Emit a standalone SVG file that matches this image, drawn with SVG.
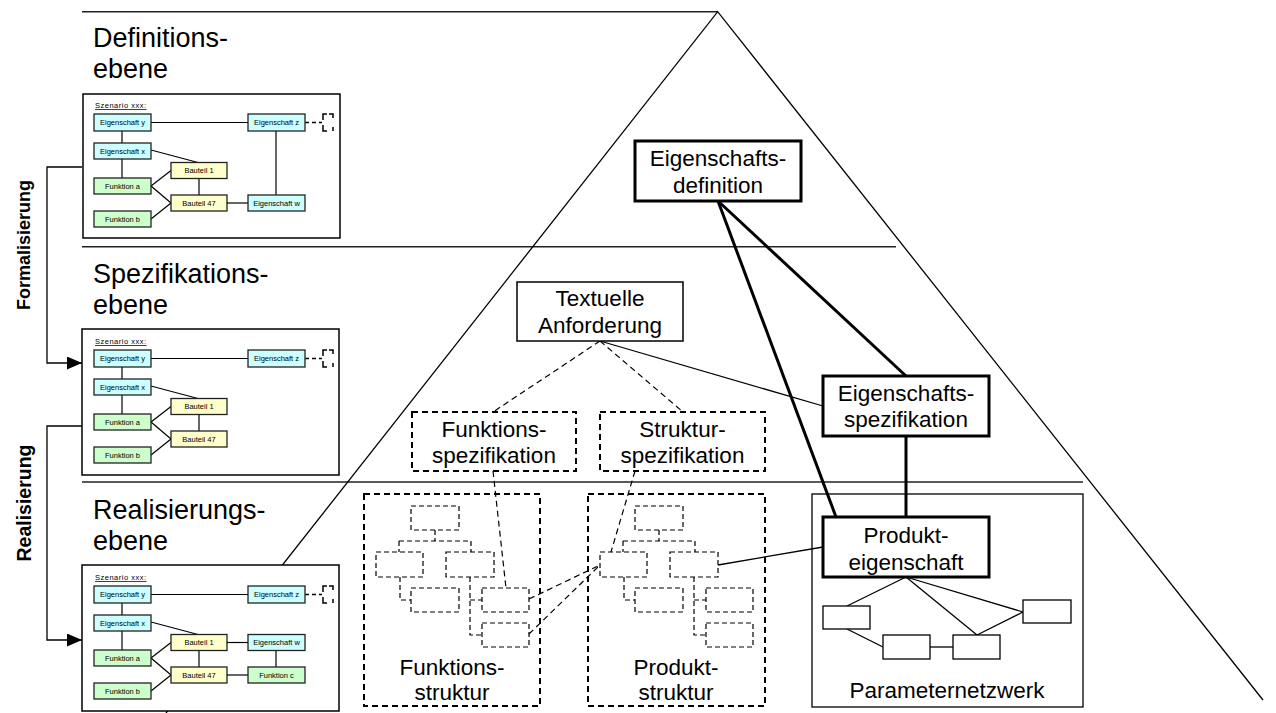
<svg xmlns="http://www.w3.org/2000/svg" width="1276" height="713" viewBox="0 0 1276 713">
<style>
text{font-family:"Liberation Sans",Arial,sans-serif;fill:#000}
.lvl{font-size:27px}
.lbl{font-size:22.5px;text-anchor:middle}
.side{font-size:18px;font-weight:bold;text-anchor:middle}
.sep{stroke:#222;stroke-width:1.5;fill:none}
.tri{stroke:#000;stroke-width:1.3;fill:none}
.thin{stroke:#000;stroke-width:1.3;fill:none}
.thick{stroke:#000;stroke-width:3;fill:none}
.dash{stroke:#000;stroke-width:1.2;fill:none;stroke-dasharray:6,4}
.dbox{stroke:#000;stroke-width:2;fill:#fff;stroke-dasharray:6,4}
.dcont{stroke:#000;stroke-width:2;fill:none;stroke-dasharray:6,4}
.tdash{stroke:#000;stroke-width:1.2;fill:none;stroke-dasharray:5,3}
.nbox{stroke:#000;stroke-width:3;fill:#fff}
.tbox{stroke:#000;stroke-width:1.5;fill:#fff}
.pbox{stroke:#000;stroke-width:1.3;fill:#fff}
.frame{stroke:#000;stroke-width:1.5;fill:#fff}
.sc{stroke:#000;stroke-width:1.2;fill:none}
.cy{fill:#ccffff;stroke:#222;stroke-width:1.3}
.gr{fill:#ccffcc;stroke:#222;stroke-width:1.3}
.ye{fill:#ffffcc;stroke:#222;stroke-width:1.3}
.st{font-size:7.5px;text-anchor:middle}
.sz{font-size:7.5px;text-decoration:underline;letter-spacing:0.5px}
.brk{stroke:#000;stroke-width:1.5;fill:none}
.sdash{stroke:#000;stroke-width:1.3;fill:none;stroke-dasharray:4,3}
</style>
<defs>
<marker id="arr" markerUnits="userSpaceOnUse" markerWidth="16" markerHeight="14" refX="15" refY="6.5" orient="auto">
<path d="M0,0 L15,6.5 L0,13 z" fill="#000"/>
</marker>
<g id="scbase">
<text class="sz" x="95" y="108">Szenario xxx:</text>
<line class="sc" x1="151" y1="122.5" x2="248" y2="122.5"/>
<line class="sc" x1="122" y1="131" x2="122" y2="143"/>
<line class="sc" x1="122" y1="159" x2="122" y2="178"/>
<line class="sc" x1="151" y1="150" x2="198" y2="162.5"/>
<line class="sc" x1="151" y1="186" x2="171" y2="170.5"/>
<line class="sc" x1="151" y1="186" x2="171" y2="203"/>
<line class="sc" x1="151" y1="219" x2="171" y2="203"/>
<line class="sc" x1="199" y1="178.5" x2="199" y2="195"/>
<line class="sdash" x1="305" y1="122.5" x2="322" y2="122.5"/>
<path class="brk" d="M329,114 H333 V118 M327,114 H323 V120 M323,125 V131 H327 M333,127 V131"/>
<rect class="cy" x="94" y="114" width="57" height="17"/><text class="st" x="122.5" y="125.2">Eigenschaft y</text>
<rect class="cy" x="248" y="114" width="57" height="17"/><text class="st" x="276.5" y="125.2">Eigenschaft z</text>
<rect class="cy" x="94" y="143" width="57" height="16"/><text class="st" x="122.5" y="153.7">Eigenschaft x</text>
<rect class="gr" x="94" y="178" width="57" height="16"/><text class="st" x="122.5" y="188.7">Funktion a</text>
<rect class="gr" x="94" y="211" width="57" height="16"/><text class="st" x="122.5" y="221.7">Funktion b</text>
<rect class="ye" x="171" y="162.5" width="56" height="16"/><text class="st" x="199" y="173.2">Bauteil 1</text>
<rect class="ye" x="171" y="195" width="56" height="16"/><text class="st" x="199" y="205.7">Bauteil 47</text>
</g>
</defs>

<g id="background">
<line class="sep" x1="82" y1="11.7" x2="717.7" y2="11.7"/>
<line class="sep" x1="82" y1="246.7" x2="896" y2="246.7"/>
<line class="sep" x1="82" y1="482" x2="1083" y2="482"/>
<polyline class="tri" points="166,713 717.7,11.7 1263,700"/>
<text class="lvl" x="93" y="47">Definitions-</text>
<text class="lvl" x="93" y="78">ebene</text>
<text class="lvl" x="93" y="283">Spezifikations-</text>
<text class="lvl" x="93" y="314">ebene</text>
<text class="lvl" x="93" y="519">Realisierungs-</text>
<text class="lvl" x="93" y="550">ebene</text>
<text class="side" transform="translate(30,245) rotate(-90)">Formalisierung</text>
<text class="side" style="font-size:19.5px" transform="translate(31,503) rotate(-90)">Realisierung</text>
</g>

<g id="containers">
<rect id="funktionsstruktur" class="dcont" x="364" y="494" width="176" height="212"/>
<rect id="produktstruktur" class="dcont" x="588" y="494" width="177" height="212"/>
<rect id="parameternetzwerk" class="thin" x="812" y="494" width="271" height="213"/>
<text class="lbl" x="452" y="675">Funktions-</text>
<text class="lbl" x="452" y="700">struktur</text>
<text class="lbl" x="676" y="675">Produkt-</text>
<text class="lbl" x="676" y="700">struktur</text>
<text class="lbl" x="947" y="698">Parameternetzwerk</text>
</g>

<g id="connectors">
<polyline class="thin" points="82,167 47,167 47,363 82,363" marker-end="url(#arr)"/>
<polyline class="thin" points="82,426 47,426 47,640 82,640" marker-end="url(#arr)"/>
<line class="thick" x1="718" y1="201" x2="906" y2="376"/>
<line class="thick" x1="718" y1="201" x2="836" y2="517"/>
<line class="thick" x1="906" y1="436" x2="906" y2="517"/>
<line class="thin" x1="600" y1="341" x2="823" y2="406"/>
<line class="dash" x1="600" y1="341" x2="493" y2="412"/>
<line class="dash" x1="600" y1="341" x2="683" y2="412"/>
<line class="dash" x1="493" y1="471" x2="506" y2="588"/>
<line class="dash" x1="635" y1="471" x2="611" y2="552"/>
<line class="dash" x1="529" y1="599" x2="600" y2="565"/>
<line class="dash" x1="529" y1="634" x2="600" y2="565"/>
<line class="thin" x1="718" y1="565" x2="823" y2="547"/>
<line class="thin" x1="906" y1="577" x2="847" y2="606"/>
<line class="thin" x1="906" y1="577" x2="977" y2="635"/>
<line class="thin" x1="906" y1="577" x2="1023" y2="612"/>
<line class="thin" x1="847" y1="629" x2="883" y2="647"/>
<line class="thin" x1="930" y1="647" x2="953" y2="647"/>
<line class="thin" x1="977" y1="635" x2="1023" y2="612"/>
<path class="tdash" d="M435,530 V541 M399,541 H471 M399,541 V552 M471,541 V552 M400,577 V600 H411 M470,577 V635 H482 M470,600 H482"/>
<path class="tdash" d="M659,530 V541 M623,541 H695 M623,541 V552 M695,541 V552 M624,577 V600 H635 M694,577 V635 H706 M694,600 H706"/>
</g>

<g id="scenario-definition">
<rect class="frame" x="83" y="94" width="257" height="144"/>
<use href="#scbase"/>
<line class="sc" x1="227" y1="203" x2="248" y2="203"/>
<line class="sc" x1="276" y1="131" x2="276" y2="195"/>
<rect class="cy" x="248" y="195" width="57" height="16"/><text class="st" x="276.5" y="205.7">Eigenschaft w</text>
</g>

<g id="scenario-spezifikation">
<rect class="frame" x="82" y="329" width="257" height="146"/>
<use href="#scbase" transform="translate(0,236)"/>
</g>

<g id="scenario-realisierung">
<rect class="frame" x="82" y="565" width="257" height="146"/>
<use href="#scbase" transform="translate(0,472)"/>
<g transform="translate(0,472)">
<line class="sc" x1="227" y1="170.5" x2="248" y2="170.5"/>
<line class="sc" x1="227" y1="203" x2="248" y2="203"/>
<line class="sc" x1="276" y1="178.5" x2="276" y2="195"/>
<rect class="cy" x="248" y="162.5" width="57" height="16"/><text class="st" x="276.5" y="173.2">Eigenschaft w</text>
<rect class="gr" x="248" y="195" width="57" height="16"/><text class="st" x="276.5" y="205.7">Funktion c</text>
</g>
</g>

<g id="tree-funktion">
<rect class="tdash" x="411" y="506" width="48" height="24"/>
<rect class="tdash" x="376" y="552" width="47" height="25"/>
<rect class="tdash" x="446" y="552" width="48" height="25"/>
<rect class="tdash" x="411" y="588" width="48" height="24"/>
<rect class="tdash" x="482" y="588" width="47" height="24"/>
<rect class="tdash" x="482" y="623" width="47" height="24"/>
</g>
<g id="tree-produkt">
<rect class="tdash" x="635" y="506" width="48" height="24"/>
<rect class="tdash" x="600" y="552" width="47" height="25"/>
<rect class="tdash" x="670" y="552" width="48" height="25"/>
<rect class="tdash" x="635" y="588" width="48" height="24"/>
<rect class="tdash" x="706" y="588" width="47" height="24"/>
<rect class="tdash" x="706" y="623" width="47" height="24"/>
</g>

<g id="param-nodes">
<rect class="pbox" x="823" y="606" width="47" height="23"/>
<rect class="pbox" x="883" y="635" width="47" height="24"/>
<rect class="pbox" x="953" y="635" width="47" height="24"/>
<rect class="pbox" x="1023" y="600" width="48" height="23"/>
</g>

<g id="eigenschaftsdefinition">
<rect class="nbox" x="635" y="141" width="166" height="60"/>
<text class="lbl" x="718" y="166">Eigenschafts-</text>
<text class="lbl" x="718" y="193">definition</text>
</g>
<g id="textuelle-anforderung">
<rect class="tbox" x="517" y="282" width="166" height="59"/>
<text class="lbl" x="600" y="306">Textuelle</text>
<text class="lbl" x="600" y="333">Anforderung</text>
</g>
<g id="funktionsspezifikation">
<rect class="dbox" x="412" y="412" width="164" height="59"/>
<text class="lbl" x="494" y="437">Funktions-</text>
<text class="lbl" x="494" y="463">spezifikation</text>
</g>
<g id="strukturspezifikation">
<rect class="dbox" x="600" y="412" width="165" height="59"/>
<text class="lbl" x="682.5" y="437">Struktur-</text>
<text class="lbl" x="682.5" y="463">spezifikation</text>
</g>
<g id="eigenschaftsspezifikation">
<rect class="nbox" x="823" y="376" width="166" height="60"/>
<text class="lbl" x="906" y="400.5">Eigenschafts-</text>
<text class="lbl" x="906" y="427">spezifikation</text>
</g>
<g id="produkteigenschaft">
<rect class="nbox" x="823" y="517" width="166" height="60"/>
<text class="lbl" x="906" y="543">Produkt-</text>
<text class="lbl" x="906" y="570">eigenschaft</text>
</g>
</svg>
